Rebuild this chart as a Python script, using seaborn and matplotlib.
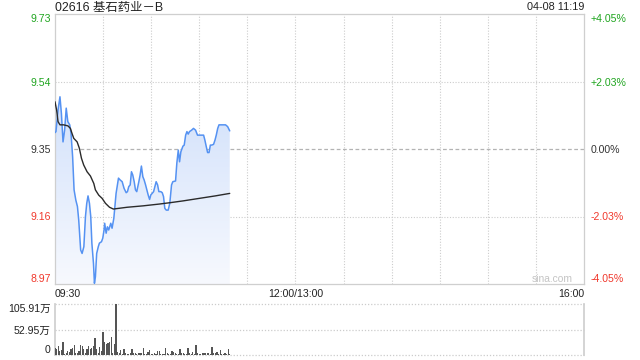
import numpy as np
import matplotlib
matplotlib.use("Agg")
import matplotlib.pyplot as plt
import seaborn as sns
import pandas as pd

# ---- data ----
title = "02616 基石药业－B"
stamp = "04-08 11:19"
price_ticks = [8.97, 9.16, 9.35, 9.54, 9.73]
price_labels = ["8.97", "9.16", "9.35", "9.54", "9.73"]
pct_labels = ["-4.05%", "-2.03%", "0.00%", "+2.03%", "+4.05%"]
x_tick_pos = [0, 150, 330]
x_tick_labels = ["09:30", "12:00/13:00", "16:00"]
vol_ticks = [0, 52.95, 105.91]
vol_labels = ["0", "52.95万", "105.91万"]

# minutes since 09:30 (trading minutes) and price
price_t = [0, 0.6, 1.9, 3.1, 4, 5, 6, 7, 8, 9.2, 10, 11, 11.9, 13, 14, 14.8, 16, 16.9, 18, 19,
           19.8, 20.6, 21.5, 22.3, 23, 24, 24.6, 25.2, 26, 27, 27.7, 29, 29.8, 30.6, 31, 31.9,
           32.7, 33.5, 34.8, 35.6, 36.7, 38.1, 39.6, 40.6, 41.9, 43.1, 44.4, 45.2, 46, 46.9,
           47.7, 48.5, 49.4, 50.2, 51, 52.3, 53.1, 53.9, 54.8, 55.6, 56.5, 57.3, 58.1, 59, 59.8,
           60.6, 61.5, 62.3, 63.1, 64, 64.8, 66, 66.9, 67.7, 68.5, 69.4, 70.6, 71.6, 72.7, 73.5,
           75.2, 76, 76.9, 77.7, 78.5, 79.8, 80.6, 81.5, 82.3, 83.1, 83.9, 85.2, 86.4, 87.7, 88.9,
           90.6, 92.7, 93.5, 94.4, 95.2, 96.1, 96.9, 97.7, 98.9, 99.8, 100.6, 101.5, 102.3, 104,
           106.4, 107.7, 109]
price_v = [9.396, 9.399, 9.46, 9.497, 9.45, 9.37, 9.403, 9.465, 9.427, 9.418, 9.394, 9.328, 9.235,
           9.206, 9.188, 9.15, 9.066, 9.056, 9.075, 9.16, 9.197, 9.218, 9.197, 9.16, 9.085, 9.028,
           8.972, 8.99, 9.056, 9.075, 9.085, 9.089, 9.099, 9.122, 9.141, 9.113, 9.131, 9.122, 9.141,
           9.127, 9.155, 9.225, 9.268, 9.263, 9.258, 9.239, 9.227, 9.23, 9.244, 9.249, 9.286, 9.277,
           9.258, 9.235, 9.23, 9.258, 9.277, 9.302, 9.272, 9.263, 9.249, 9.235, 9.221, 9.208, 9.221,
           9.225, 9.23, 9.244, 9.258, 9.249, 9.23, 9.23, 9.227, 9.216, 9.183, 9.178, 9.178, 9.197,
           9.249, 9.258, 9.26, 9.31, 9.347, 9.314, 9.342, 9.358, 9.361, 9.389, 9.399, 9.392, 9.399,
           9.403, 9.408, 9.403, 9.389, 9.389, 9.389, 9.375, 9.356, 9.34, 9.34, 9.361, 9.361, 9.363,
           9.375, 9.389, 9.408, 9.418, 9.418, 9.418, 9.413, 9.401]

avg_t = [0, 1, 1.9, 3.1, 5.4, 8.1, 9.6, 10.6, 11.7, 13.8, 15.2, 16.5, 17.9, 20, 22.1, 24.2, 25.2,
         27.3, 29.4, 31.5, 34, 36.4, 45, 55, 65, 72, 80, 90, 100, 109]
avg_v = [9.483, 9.46, 9.427, 9.418, 9.418, 9.415, 9.408, 9.394, 9.38, 9.37, 9.352, 9.324, 9.305,
         9.286, 9.274, 9.253, 9.235, 9.22, 9.211, 9.197, 9.186, 9.181, 9.186, 9.19, 9.195, 9.199,
         9.204, 9.211, 9.218, 9.225]

# volume per minute (万)
vol_v = [15.2, 11.8, 18.7, 8, 10.4, 27, 1.4, 4.8, 8.3, 6, 13.2, 15.2, 20.8, 4.8, 3.5, 9, 20, 18.7,
         11.8, 5, 13.2, 18.7, 11.8, 15.2, 18.7, 36, 11.8, 4.8, 17.3, 8, 47.8, 27, 22.2, 25.6, 27,
         38, 3.5, 22.2, 105.91, 6.2, 3.5, 10.4, 1.4, 13.2, 4.8, 2, 1.4, 3.5, 11.8, 5, 4.8, 2, 3.5,
         3.5, 4.8, 13.8, 1.4, 1.4, 6.2, 10.4, 1.4, 1.4, 3.5, 2, 8.3, 8.3, 1.4, 1.4, 2, 13.8, 3.5,
         1.4, 2, 8.3, 6.2, 3.5, 1.4, 2, 11.8, 3.5, 3.5, 1.4, 1.4, 13.8, 3.5, 1.4, 6.2, 1.4, 20,
         3.5, 1.4, 1.4, 3.5, 3.5, 4.8, 3.5, 3.5, 2, 16.6, 3.5, 4.8, 6.2, 1.4, 9.7, 1.4, 1.4, 3.5,
         2, 13.2, 1.4]
vol_t = list(range(len(vol_v)))

# ---- style ----
sns.set_theme(style="white")
plt.rcParams["font.family"] = ["Liberation Sans", "Noto Sans CJK SC", "DejaVu Sans"]

GREEN = "#1fa51f"
RED = "#f0382c"
DARK = "#333333"
BORDER = "#cfcfcf"
GRID = "#cccccc"
BLUE = "#5592f2"

fig = plt.figure(figsize=(6.4, 3.6), dpi=100)
W, H = 640, 360
L, R = 55, 584
ax = fig.add_axes([L / W, 1 - 284 / H, (R - L) / W, (284 - 14) / H])
axv = fig.add_axes([L / W, 1 - 355 / H, (R - L) / W, (355 - 304) / H])

ymin, ymax = 8.97, 9.73
ax.set_xlim(0, 330)
ax.set_ylim(ymin, ymax)

# gridlines
for gx in range(30, 330, 30):
    ax.axvline(gx, color=GRID, lw=0.8, ls=(0, (1, 1.5)), zorder=0)
for gy in (9.16, 9.54):
    ax.axhline(gy, color=GRID, lw=0.8, ls=(0, (1, 1.5)), zorder=0)
ax.axhline(9.35, color="#b3b3b3", lw=0.9, ls=(0, (3, 2)), zorder=0)

# gradient fill under price
poly = ax.fill_between(price_t, price_v, ymin, color="none", lw=0)
grad = np.linspace(0, 1, 256).reshape(-1, 1)
top_c = np.array([210, 225, 251]) / 255
bot_c = np.array([247, 249, 254]) / 255
img = top_c[None, None, :] * grad[:, :, None] + bot_c[None, None, :] * (1 - grad[:, :, None])
im = ax.imshow(img, aspect="auto", origin="lower",
               extent=[0, max(price_t), ymin, max(price_v)], zorder=1)
path = poly.get_paths()[0]
im.set_clip_path(path, transform=ax.transData)

df_p = pd.DataFrame({"t": price_t, "p": price_v})
df_a = pd.DataFrame({"t": avg_t, "p": avg_v})
sns.lineplot(data=df_p, x="t", y="p", ax=ax, color=BLUE, lw=1.1, zorder=3, estimator=None, sort=False)
sns.lineplot(data=df_a, x="t", y="p", ax=ax, color="#2a2a2a", lw=1.0, zorder=4, estimator=None, sort=False)
ax.set_xlabel("")
ax.set_ylabel("")

for s in ax.spines.values():
    s.set_color(BORDER)
    s.set_linewidth(0.9)

# y tick labels
label_colors = [RED, RED, DARK, GREEN, GREEN]
ax.set_yticks(price_ticks)
ax.set_yticklabels(price_labels)
ax.tick_params(axis="y", length=0, pad=3, labelsize=7.6)
for lab, c in zip(ax.get_yticklabels(), label_colors):
    lab.set_color(c)
ylabs = ax.get_yticklabels()
ylabs[0].set_va("bottom")
ylabs[-1].set_va("top")

ax2 = ax.twinx()
ax2.set_ylim(ymin, ymax)
ax2.set_yticks(price_ticks)
ax2.set_yticklabels(pct_labels)
ax2.tick_params(axis="y", length=0, pad=5, labelsize=7.6)
for lab, c in zip(ax2.get_yticklabels(), label_colors):
    lab.set_color(c)
rl = ax2.get_yticklabels()
rl[0].set_va("bottom")
rl[-1].set_va("top")
for s in ax2.spines.values():
    s.set_visible(False)

# x tick labels
ax.set_xticks(x_tick_pos)
ax.set_xticklabels(x_tick_labels)
ax.tick_params(axis="x", length=0, pad=3.5, labelsize=7.6, labelcolor="#222222")
xl = ax.get_xticklabels()
xl[0].set_ha("left")
xl[1].set_ha("center")
xl[2].set_ha("right")

# watermark
ax.text(573 / W, 1 - 279 / H, "sina.com", transform=fig.transFigure, ha="right", va="center",
        fontsize=7.4, color="#c4c4c4")

# title
fig.text(L / W, 1 - 7.5 / H, title, ha="left", va="center", fontsize=8.9, color="#222222")
fig.text(R / W, 1 - 7.5 / H, stamp, ha="right", va="center", fontsize=7.8, color="#222222")

# volume
axv.set_xlim(0, 330)
axv.set_ylim(0, 105.91)
axv.bar(vol_t, vol_v, width=0.75, color="#555555", lw=0, align="center", zorder=3)
for gy in vol_ticks:
    axv.axhline(gy, color=GRID, lw=0.9, ls=(0, (1, 1.5)), zorder=0, clip_on=False)
axv.set_yticks(vol_ticks)
axv.set_yticklabels(vol_labels)
axv.tick_params(axis="y", length=0, pad=3, labelsize=7.6, labelcolor="#222222")
vl = axv.get_yticklabels()
vl[0].set_va("bottom")
vl[-1].set_va("top")
axv.set_xticks([])
axv.spines["top"].set_visible(False)
axv.spines["bottom"].set_visible(False)
axv.spines["left"].set_color(BORDER)
axv.spines["right"].set_color(BORDER)

fig.savefig("out.png", dpi=100)
